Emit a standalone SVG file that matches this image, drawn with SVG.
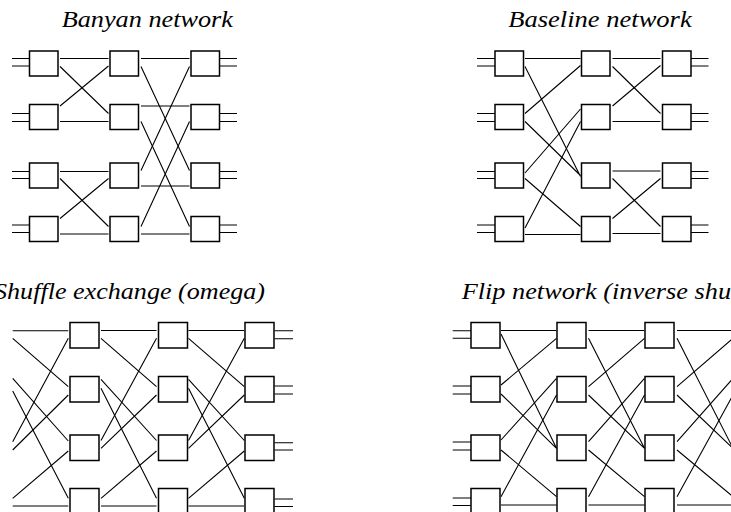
<svg xmlns="http://www.w3.org/2000/svg" width="731" height="512" viewBox="0 0 731 512">
  <style>
    .bg { fill: #ffffff; }
    .box { fill: #ffffff; stroke: #000000; stroke-width: 1.5; }
    .wire { stroke: #000000; stroke-width: 1.1; fill: none; stroke-linecap: butt; }
    .title { font-family: "Liberation Serif", "Times New Roman", serif; font-style: italic; font-size: 24px; fill: #000000; }
  </style>
  <defs>
    <rect id="sw" class="box" x="0" y="0" width="28.5" height="25"/>
    <rect id="sw2" class="box" x="0" y="0" width="29" height="25.5"/>
  </defs>
  <rect class="bg" x="0" y="0" width="731" height="512"/>

  <!-- titles -->
  <text class="title" x="61.7" y="27.3" textLength="171.3" lengthAdjust="spacingAndGlyphs">Banyan network</text>
  <text class="title" x="508.3" y="27.3" textLength="183.4" lengthAdjust="spacingAndGlyphs">Baseline network</text>
  <text class="title" x="-6" y="298.7" textLength="271" lengthAdjust="spacingAndGlyphs">Shuffle exchange (omega)</text>
  <text class="title" x="461.7" y="299" textLength="311.7" lengthAdjust="spacingAndGlyphs">Flip network (inverse shuffle)</text>

  <!-- connectors -->
  <g id="connectors" class="wire">
    <!-- Banyan: input / output stubs -->
    <path d="M12,58.5H29.5M12,66H29.5M12,113.5H29.5M12,121.5H29.5M12,171.5H29.5M12,178.5H29.5M12,225H29.5M12,232.5H29.5"/>
    <path d="M219.5,58.5H237M219.5,66H237M219.5,113.5H237M219.5,121.5H237M219.5,171.5H237M219.5,178.5H237M219.5,225H237M219.5,232.5H237"/>
    <!-- Banyan: stage 1 -->
    <path d="M60,58.5L108.5,58.5M60,66.5L108.5,113.5M60,106L108.5,66M60,121.5L108.5,121.5"/>
    <path d="M60,171.5L108.5,171.5M60,178.5L108.5,226.5M60,218.5L108.5,178.5M60,234L108.5,234"/>
    <!-- Banyan: stage 2 -->
    <path d="M141,58.5L189.5,58.5M141,66.5L189.5,170.5M141,106L189.5,106M141,121.5L189.5,226.5"/>
    <path d="M141,170.5L189.5,66.5M141,186L189.5,186M141,226.5L189.5,121.5M141,234L189.5,234"/>

    <!-- Baseline: input / output stubs -->
    <path d="M477,58.5H495M477,66H495M477,113.5H495M477,121.5H495M477,171.5H495M477,178.5H495M477,225H495M477,232.5H495"/>
    <path d="M691,58.5H708.5M691,66H708.5M691,113.5H708.5M691,121.5H708.5M691,171.5H708.5M691,178.5H708.5M691,225H708.5M691,232.5H708.5"/>
    <!-- Baseline: stage 1 -->
    <path d="M525,58.5L580.5,58.5M525,66.5L580.5,176.5M525,113.5L580.5,65.5M525,121.5L580.5,175.5"/>
    <path d="M525,173L580.5,109M525,178.5L580.5,226.5M525,228L580.5,121.5M525,234.5L580.5,234.5"/>
    <!-- Baseline: stage 2 -->
    <path d="M612.5,58.5L660.5,58.5M612.5,66.5L660.5,113.5M612.5,106L660.5,65.5M612.5,121.5L660.5,121.5"/>
    <path d="M612.5,171L660.5,171M612.5,178.5L660.5,226.5M612.5,218.5L660.5,178.5M612.5,233.5L660.5,233.5"/>

    <!-- Omega: output stubs -->
    <path d="M274.5,330.7H293M274.5,338.7H293M274.5,386H293M274.5,394H293M274.5,442.7H293M274.5,450H293M274.5,499H293M274.5,506.5H293"/>
    <!-- Omega: stage 1 (perfect shuffle into column 1) -->
    <path d="M12.7,330.7L68.3,330.7M12.7,338.3L68.3,386.7M12.7,378.3L68.3,441M12.7,391L68.3,498.3"/>
    <path d="M12.7,441.7L68.3,338.3M12.7,450L68.3,395M12.7,498.3L68.3,451M12.7,506L68.3,506"/>
    <!-- Omega: stage 2 -->
    <path d="M101,330.5L156.5,330.5M101,338.3L156.5,386.7M101,379.3L156.5,440.5M101,388.3L156.5,498.3"/>
    <path d="M101,440.5L156.5,338.3M101,448.3L156.5,395M101,498.3L156.5,451M101,506L156.5,506"/>
    <!-- Omega: stage 3 -->
    <path d="M188.5,330.5L244.3,330.5M188.5,338.3L244.3,386.7M188.5,379.3L244.3,440.5M188.5,388.3L244.3,498.3"/>
    <path d="M188.5,440.5L244.3,338.3M188.5,448.3L244.3,395M188.5,498.3L244.3,451M188.5,506L244.3,506"/>

    <!-- Flip: input stubs -->
    <path d="M452.7,330.7H471M452.7,338.3H471M452.7,386H471M452.7,394H471M452.7,442H471M452.7,450H471M452.7,498H471M452.7,505.5H471"/>
    <!-- Flip: stage 1 (inverse shuffle) -->
    <path d="M501,330.5L556.5,330.5M501,334L556.5,448.3M501,385L556.5,338.3M501,394L556.5,448.3"/>
    <path d="M501,440L556.5,378.3M501,450L556.5,496.7M501,496.7L556.5,395M501,505L556.5,505"/>
    <!-- Flip: stage 2 -->
    <path d="M588.5,330.5L644.5,330.5M588.5,338.3L644.5,448.3M588.5,386.7L644.5,338.3M588.5,395L644.5,448.3"/>
    <path d="M588.5,441.7L644.5,378.3M588.5,450L644.5,496.7M588.5,496.7L644.5,395M588.5,505L644.5,505"/>
    <!-- Flip: stage 3 -->
    <path d="M677,330.5L733,330.5M677,338.3L733,448.3M677,386.7L733,338.3M677,395L733,448.3"/>
    <path d="M677,441.7L733,378.3M677,450L733,496.7M677,496.7L733,395M677,505L733,505"/>
  </g>

  <!-- Banyan network switches -->
  <g id="banyan-1-1"><use href="#sw" x="29.5" y="51"/></g>
  <g id="banyan-1-2"><use href="#sw" x="29.5" y="104.5"/></g>
  <g id="banyan-1-3"><use href="#sw" x="29.5" y="163"/></g>
  <g id="banyan-1-4"><use href="#sw" x="29.5" y="216.5"/></g>
  <g id="banyan-2-1"><use href="#sw" x="110" y="51"/></g>
  <g id="banyan-2-2"><use href="#sw" x="110" y="104.5"/></g>
  <g id="banyan-2-3"><use href="#sw" x="110" y="163"/></g>
  <g id="banyan-2-4"><use href="#sw" x="110" y="216.5"/></g>
  <g id="banyan-3-1"><use href="#sw" x="191" y="51"/></g>
  <g id="banyan-3-2"><use href="#sw" x="191" y="104.5"/></g>
  <g id="banyan-3-3"><use href="#sw" x="191" y="163"/></g>
  <g id="banyan-3-4"><use href="#sw" x="191" y="216.5"/></g>

  <!-- Baseline network switches -->
  <g id="baseline-1-1"><use href="#sw" x="495" y="51"/></g>
  <g id="baseline-1-2"><use href="#sw" x="495" y="104.5"/></g>
  <g id="baseline-1-3"><use href="#sw" x="495" y="163"/></g>
  <g id="baseline-1-4"><use href="#sw" x="495" y="216.5"/></g>
  <g id="baseline-2-1"><use href="#sw" x="581.5" y="51"/></g>
  <g id="baseline-2-2"><use href="#sw" x="581.5" y="104.5"/></g>
  <g id="baseline-2-3"><use href="#sw" x="581.5" y="163"/></g>
  <g id="baseline-2-4"><use href="#sw" x="581.5" y="216.5"/></g>
  <g id="baseline-3-1"><use href="#sw" x="662.5" y="51"/></g>
  <g id="baseline-3-2"><use href="#sw" x="662.5" y="104.5"/></g>
  <g id="baseline-3-3"><use href="#sw" x="662.5" y="163"/></g>
  <g id="baseline-3-4"><use href="#sw" x="662.5" y="216.5"/></g>

  <!-- Omega (shuffle exchange) switches -->
  <g id="omega-1-1"><use href="#sw2" x="70" y="322.5"/></g>
  <g id="omega-1-2"><use href="#sw2" x="70" y="376.5"/></g>
  <g id="omega-1-3"><use href="#sw2" x="70" y="435"/></g>
  <g id="omega-1-4"><use href="#sw2" x="70" y="488.5"/></g>
  <g id="omega-2-1"><use href="#sw2" x="158.5" y="322.5"/></g>
  <g id="omega-2-2"><use href="#sw2" x="158.5" y="376.5"/></g>
  <g id="omega-2-3"><use href="#sw2" x="158.5" y="435"/></g>
  <g id="omega-2-4"><use href="#sw2" x="158.5" y="488.5"/></g>
  <g id="omega-3-1"><use href="#sw2" x="245" y="322.5"/></g>
  <g id="omega-3-2"><use href="#sw2" x="245" y="376.5"/></g>
  <g id="omega-3-3"><use href="#sw2" x="245" y="435"/></g>
  <g id="omega-3-4"><use href="#sw2" x="245" y="488.5"/></g>

  <!-- Flip (inverse shuffle) switches -->
  <g id="flip-1-1"><use href="#sw2" x="471" y="322.5"/></g>
  <g id="flip-1-2"><use href="#sw2" x="471" y="376.5"/></g>
  <g id="flip-1-3"><use href="#sw2" x="471" y="435"/></g>
  <g id="flip-1-4"><use href="#sw2" x="471" y="488.5"/></g>
  <g id="flip-2-1"><use href="#sw2" x="557" y="322.5"/></g>
  <g id="flip-2-2"><use href="#sw2" x="557" y="376.5"/></g>
  <g id="flip-2-3"><use href="#sw2" x="557" y="435"/></g>
  <g id="flip-2-4"><use href="#sw2" x="557" y="488.5"/></g>
  <g id="flip-3-1"><use href="#sw2" x="645" y="322.5"/></g>
  <g id="flip-3-2"><use href="#sw2" x="645" y="376.5"/></g>
  <g id="flip-3-3"><use href="#sw2" x="645" y="435"/></g>
  <g id="flip-3-4"><use href="#sw2" x="645" y="488.5"/></g>
</svg>
